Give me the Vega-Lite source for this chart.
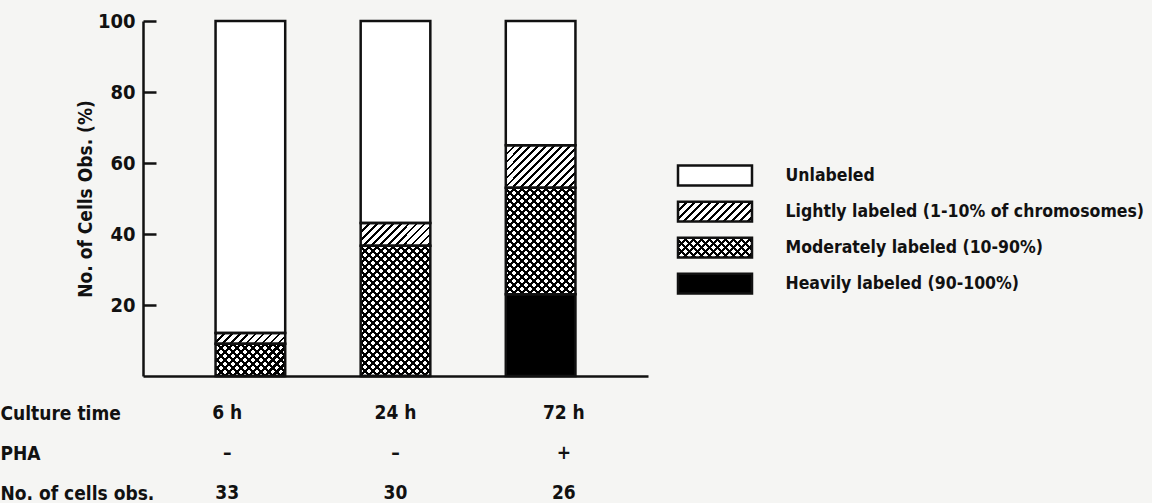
{
"$schema": "https://vega.github.io/schema/vega-lite/v6.json",
"background": "#f5f5f3",
"padding": {"left": 0, "top": 11, "right": 14, "bottom": 0},
"config": {"view": {"stroke": null}, "font": "Liberation Sans Narrow, DejaVu Sans Condensed, sans-serif"},
"params": [
{"name": "thin", "value": [
{"offset":0,"color":"#000"},{"offset":0.008,"color":"#000"},{"offset":0.008,"color":"transparent"},{"offset":0.025,"color":"transparent"},
{"offset":0.025,"color":"#000"},{"offset":0.033,"color":"#000"},{"offset":0.033,"color":"transparent"},{"offset":0.05,"color":"transparent"},
{"offset":0.05,"color":"#000"},{"offset":0.058,"color":"#000"},{"offset":0.058,"color":"transparent"},{"offset":0.075,"color":"transparent"},
{"offset":0.075,"color":"#000"},{"offset":0.083,"color":"#000"},{"offset":0.083,"color":"transparent"},{"offset":0.1,"color":"transparent"},
{"offset":0.1,"color":"#000"},{"offset":0.108,"color":"#000"},{"offset":0.108,"color":"transparent"},{"offset":0.125,"color":"transparent"},
{"offset":0.125,"color":"#000"},{"offset":0.133,"color":"#000"},{"offset":0.133,"color":"transparent"},{"offset":0.15,"color":"transparent"},
{"offset":0.15,"color":"#000"},{"offset":0.158,"color":"#000"},{"offset":0.158,"color":"transparent"},{"offset":0.175,"color":"transparent"},
{"offset":0.175,"color":"#000"},{"offset":0.183,"color":"#000"},{"offset":0.183,"color":"transparent"},{"offset":0.2,"color":"transparent"},
{"offset":0.2,"color":"#000"},{"offset":0.208,"color":"#000"},{"offset":0.208,"color":"transparent"},{"offset":0.225,"color":"transparent"},
{"offset":0.225,"color":"#000"},{"offset":0.233,"color":"#000"},{"offset":0.233,"color":"transparent"},{"offset":0.25,"color":"transparent"},
{"offset":0.25,"color":"#000"},{"offset":0.258,"color":"#000"},{"offset":0.258,"color":"transparent"},{"offset":0.275,"color":"transparent"},
{"offset":0.275,"color":"#000"},{"offset":0.283,"color":"#000"},{"offset":0.283,"color":"transparent"},{"offset":0.3,"color":"transparent"},
{"offset":0.3,"color":"#000"},{"offset":0.308,"color":"#000"},{"offset":0.308,"color":"transparent"},{"offset":0.325,"color":"transparent"},
{"offset":0.325,"color":"#000"},{"offset":0.333,"color":"#000"},{"offset":0.333,"color":"transparent"},{"offset":0.35,"color":"transparent"},
{"offset":0.35,"color":"#000"},{"offset":0.358,"color":"#000"},{"offset":0.358,"color":"transparent"},{"offset":0.375,"color":"transparent"},
{"offset":0.375,"color":"#000"},{"offset":0.383,"color":"#000"},{"offset":0.383,"color":"transparent"},{"offset":0.4,"color":"transparent"},
{"offset":0.4,"color":"#000"},{"offset":0.408,"color":"#000"},{"offset":0.408,"color":"transparent"},{"offset":0.425,"color":"transparent"},
{"offset":0.425,"color":"#000"},{"offset":0.433,"color":"#000"},{"offset":0.433,"color":"transparent"},{"offset":0.45,"color":"transparent"},
{"offset":0.45,"color":"#000"},{"offset":0.458,"color":"#000"},{"offset":0.458,"color":"transparent"},{"offset":0.475,"color":"transparent"},
{"offset":0.475,"color":"#000"},{"offset":0.483,"color":"#000"},{"offset":0.483,"color":"transparent"},{"offset":0.5,"color":"transparent"},
{"offset":0.5,"color":"#000"},{"offset":0.508,"color":"#000"},{"offset":0.508,"color":"transparent"},{"offset":0.525,"color":"transparent"},
{"offset":0.525,"color":"#000"},{"offset":0.533,"color":"#000"},{"offset":0.533,"color":"transparent"},{"offset":0.55,"color":"transparent"},
{"offset":0.55,"color":"#000"},{"offset":0.558,"color":"#000"},{"offset":0.558,"color":"transparent"},{"offset":0.575,"color":"transparent"},
{"offset":0.575,"color":"#000"},{"offset":0.583,"color":"#000"},{"offset":0.583,"color":"transparent"},{"offset":0.6,"color":"transparent"},
{"offset":0.6,"color":"#000"},{"offset":0.608,"color":"#000"},{"offset":0.608,"color":"transparent"},{"offset":0.625,"color":"transparent"},
{"offset":0.625,"color":"#000"},{"offset":0.633,"color":"#000"},{"offset":0.633,"color":"transparent"},{"offset":0.65,"color":"transparent"},
{"offset":0.65,"color":"#000"},{"offset":0.658,"color":"#000"},{"offset":0.658,"color":"transparent"},{"offset":0.675,"color":"transparent"},
{"offset":0.675,"color":"#000"},{"offset":0.683,"color":"#000"},{"offset":0.683,"color":"transparent"},{"offset":0.7,"color":"transparent"},
{"offset":0.7,"color":"#000"},{"offset":0.708,"color":"#000"},{"offset":0.708,"color":"transparent"},{"offset":0.725,"color":"transparent"},
{"offset":0.725,"color":"#000"},{"offset":0.733,"color":"#000"},{"offset":0.733,"color":"transparent"},{"offset":0.75,"color":"transparent"},
{"offset":0.75,"color":"#000"},{"offset":0.758,"color":"#000"},{"offset":0.758,"color":"transparent"},{"offset":0.775,"color":"transparent"},
{"offset":0.775,"color":"#000"},{"offset":0.783,"color":"#000"},{"offset":0.783,"color":"transparent"},{"offset":0.8,"color":"transparent"},
{"offset":0.8,"color":"#000"},{"offset":0.808,"color":"#000"},{"offset":0.808,"color":"transparent"},{"offset":0.825,"color":"transparent"},
{"offset":0.825,"color":"#000"},{"offset":0.833,"color":"#000"},{"offset":0.833,"color":"transparent"},{"offset":0.85,"color":"transparent"},
{"offset":0.85,"color":"#000"},{"offset":0.858,"color":"#000"},{"offset":0.858,"color":"transparent"},{"offset":0.875,"color":"transparent"},
{"offset":0.875,"color":"#000"},{"offset":0.883,"color":"#000"},{"offset":0.883,"color":"transparent"},{"offset":0.9,"color":"transparent"},
{"offset":0.9,"color":"#000"},{"offset":0.908,"color":"#000"},{"offset":0.908,"color":"transparent"},{"offset":0.925,"color":"transparent"},
{"offset":0.925,"color":"#000"},{"offset":0.933,"color":"#000"},{"offset":0.933,"color":"transparent"},{"offset":0.95,"color":"transparent"},
{"offset":0.95,"color":"#000"},{"offset":0.958,"color":"#000"},{"offset":0.958,"color":"transparent"},{"offset":0.975,"color":"transparent"},
{"offset":0.975,"color":"#000"},{"offset":0.983,"color":"#000"},{"offset":0.983,"color":"transparent"},{"offset":1,"color":"transparent"}
]},
{"name": "thick", "value": [
{"offset":0,"color":"#000"},{"offset":0.01,"color":"#000"},{"offset":0.01,"color":"transparent"},{"offset":0.025,"color":"transparent"},
{"offset":0.025,"color":"#000"},{"offset":0.035,"color":"#000"},{"offset":0.035,"color":"transparent"},{"offset":0.05,"color":"transparent"},
{"offset":0.05,"color":"#000"},{"offset":0.06,"color":"#000"},{"offset":0.06,"color":"transparent"},{"offset":0.075,"color":"transparent"},
{"offset":0.075,"color":"#000"},{"offset":0.085,"color":"#000"},{"offset":0.085,"color":"transparent"},{"offset":0.1,"color":"transparent"},
{"offset":0.1,"color":"#000"},{"offset":0.11,"color":"#000"},{"offset":0.11,"color":"transparent"},{"offset":0.125,"color":"transparent"},
{"offset":0.125,"color":"#000"},{"offset":0.135,"color":"#000"},{"offset":0.135,"color":"transparent"},{"offset":0.15,"color":"transparent"},
{"offset":0.15,"color":"#000"},{"offset":0.16,"color":"#000"},{"offset":0.16,"color":"transparent"},{"offset":0.175,"color":"transparent"},
{"offset":0.175,"color":"#000"},{"offset":0.185,"color":"#000"},{"offset":0.185,"color":"transparent"},{"offset":0.2,"color":"transparent"},
{"offset":0.2,"color":"#000"},{"offset":0.21,"color":"#000"},{"offset":0.21,"color":"transparent"},{"offset":0.225,"color":"transparent"},
{"offset":0.225,"color":"#000"},{"offset":0.235,"color":"#000"},{"offset":0.235,"color":"transparent"},{"offset":0.25,"color":"transparent"},
{"offset":0.25,"color":"#000"},{"offset":0.26,"color":"#000"},{"offset":0.26,"color":"transparent"},{"offset":0.275,"color":"transparent"},
{"offset":0.275,"color":"#000"},{"offset":0.285,"color":"#000"},{"offset":0.285,"color":"transparent"},{"offset":0.3,"color":"transparent"},
{"offset":0.3,"color":"#000"},{"offset":0.31,"color":"#000"},{"offset":0.31,"color":"transparent"},{"offset":0.325,"color":"transparent"},
{"offset":0.325,"color":"#000"},{"offset":0.335,"color":"#000"},{"offset":0.335,"color":"transparent"},{"offset":0.35,"color":"transparent"},
{"offset":0.35,"color":"#000"},{"offset":0.36,"color":"#000"},{"offset":0.36,"color":"transparent"},{"offset":0.375,"color":"transparent"},
{"offset":0.375,"color":"#000"},{"offset":0.385,"color":"#000"},{"offset":0.385,"color":"transparent"},{"offset":0.4,"color":"transparent"},
{"offset":0.4,"color":"#000"},{"offset":0.41,"color":"#000"},{"offset":0.41,"color":"transparent"},{"offset":0.425,"color":"transparent"},
{"offset":0.425,"color":"#000"},{"offset":0.435,"color":"#000"},{"offset":0.435,"color":"transparent"},{"offset":0.45,"color":"transparent"},
{"offset":0.45,"color":"#000"},{"offset":0.46,"color":"#000"},{"offset":0.46,"color":"transparent"},{"offset":0.475,"color":"transparent"},
{"offset":0.475,"color":"#000"},{"offset":0.485,"color":"#000"},{"offset":0.485,"color":"transparent"},{"offset":0.5,"color":"transparent"},
{"offset":0.5,"color":"#000"},{"offset":0.51,"color":"#000"},{"offset":0.51,"color":"transparent"},{"offset":0.525,"color":"transparent"},
{"offset":0.525,"color":"#000"},{"offset":0.535,"color":"#000"},{"offset":0.535,"color":"transparent"},{"offset":0.55,"color":"transparent"},
{"offset":0.55,"color":"#000"},{"offset":0.56,"color":"#000"},{"offset":0.56,"color":"transparent"},{"offset":0.575,"color":"transparent"},
{"offset":0.575,"color":"#000"},{"offset":0.585,"color":"#000"},{"offset":0.585,"color":"transparent"},{"offset":0.6,"color":"transparent"},
{"offset":0.6,"color":"#000"},{"offset":0.61,"color":"#000"},{"offset":0.61,"color":"transparent"},{"offset":0.625,"color":"transparent"},
{"offset":0.625,"color":"#000"},{"offset":0.635,"color":"#000"},{"offset":0.635,"color":"transparent"},{"offset":0.65,"color":"transparent"},
{"offset":0.65,"color":"#000"},{"offset":0.66,"color":"#000"},{"offset":0.66,"color":"transparent"},{"offset":0.675,"color":"transparent"},
{"offset":0.675,"color":"#000"},{"offset":0.685,"color":"#000"},{"offset":0.685,"color":"transparent"},{"offset":0.7,"color":"transparent"},
{"offset":0.7,"color":"#000"},{"offset":0.71,"color":"#000"},{"offset":0.71,"color":"transparent"},{"offset":0.725,"color":"transparent"},
{"offset":0.725,"color":"#000"},{"offset":0.735,"color":"#000"},{"offset":0.735,"color":"transparent"},{"offset":0.75,"color":"transparent"},
{"offset":0.75,"color":"#000"},{"offset":0.76,"color":"#000"},{"offset":0.76,"color":"transparent"},{"offset":0.775,"color":"transparent"},
{"offset":0.775,"color":"#000"},{"offset":0.785,"color":"#000"},{"offset":0.785,"color":"transparent"},{"offset":0.8,"color":"transparent"},
{"offset":0.8,"color":"#000"},{"offset":0.81,"color":"#000"},{"offset":0.81,"color":"transparent"},{"offset":0.825,"color":"transparent"},
{"offset":0.825,"color":"#000"},{"offset":0.835,"color":"#000"},{"offset":0.835,"color":"transparent"},{"offset":0.85,"color":"transparent"},
{"offset":0.85,"color":"#000"},{"offset":0.86,"color":"#000"},{"offset":0.86,"color":"transparent"},{"offset":0.875,"color":"transparent"},
{"offset":0.875,"color":"#000"},{"offset":0.885,"color":"#000"},{"offset":0.885,"color":"transparent"},{"offset":0.9,"color":"transparent"},
{"offset":0.9,"color":"#000"},{"offset":0.91,"color":"#000"},{"offset":0.91,"color":"transparent"},{"offset":0.925,"color":"transparent"},
{"offset":0.925,"color":"#000"},{"offset":0.935,"color":"#000"},{"offset":0.935,"color":"transparent"},{"offset":0.95,"color":"transparent"},
{"offset":0.95,"color":"#000"},{"offset":0.96,"color":"#000"},{"offset":0.96,"color":"transparent"},{"offset":0.975,"color":"transparent"},
{"offset":0.975,"color":"#000"},{"offset":0.985,"color":"#000"},{"offset":0.985,"color":"transparent"},{"offset":1,"color":"transparent"}
]}
],
"datasets": {
"bars": [
{"time":"6 h","label":"Unlabeled","level":0,"pct":87.9},
{"time":"6 h","label":"Lightly labeled (1-10% of chromosomes)","level":1,"pct":3.0},
{"time":"6 h","label":"Moderately labeled (10-90%)","level":2,"pct":9.1},
{"time":"6 h","label":"Heavily labeled (90-100%)","level":3,"pct":0},
{"time":"24 h","label":"Unlabeled","level":0,"pct":56.9},
{"time":"24 h","label":"Lightly labeled (1-10% of chromosomes)","level":1,"pct":6.4},
{"time":"24 h","label":"Moderately labeled (10-90%)","level":2,"pct":36.7},
{"time":"24 h","label":"Heavily labeled (90-100%)","level":3,"pct":0},
{"time":"72 h","label":"Unlabeled","level":0,"pct":35.0},
{"time":"72 h","label":"Lightly labeled (1-10% of chromosomes)","level":1,"pct":12.0},
{"time":"72 h","label":"Moderately labeled (10-90%)","level":2,"pct":30.0},
{"time":"72 h","label":"Heavily labeled (90-100%)","level":3,"pct":23.0}
],
"table": [
{"time":"6 h","row":"Culture time","value":"6 h"},
{"time":"24 h","row":"Culture time","value":"24 h"},
{"time":"72 h","row":"Culture time","value":"72 h"},
{"time":"6 h","row":"PHA","value":"–"},
{"time":"24 h","row":"PHA","value":"–"},
{"time":"72 h","row":"PHA","value":"+"},
{"time":"6 h","row":"No. of cells obs.","value":"33"},
{"time":"24 h","row":"No. of cells obs.","value":"30"},
{"time":"72 h","row":"No. of cells obs.","value":"26"}
],
"cats": [
{"label":"Unlabeled","level":0},
{"label":"Lightly labeled (1-10% of chromosomes)","level":1},
{"label":"Moderately labeled (10-90%)","level":2},
{"label":"Heavily labeled (90-100%)","level":3}
]
},
"spacing": 28,
"center": true,
"hconcat": [
{
"spacing": 25,
"vconcat": [
{
"width": 505, "height": 355,
"data": {"name": "bars"},
"encoding": {
"x": {"field": "time", "type": "nominal", "scale": {"domain": ["6 h","24 h","72 h"], "paddingInner": 0.52, "paddingOuter": 0.5}, "axis": {"labels": false, "ticks": false, "title": null, "domainWidth": 2.5, "domainColor": "#111"}},
"y": {"field": "pct", "type": "quantitative", "stack": "zero", "scale": {"domain": [0, 100], "nice": false},
"axis": {"values": [20,40,60,80,100], "title": "No. of Cells Obs. (%)", "titleFontSize": 19, "titleFontWeight": "bold", "titleColor": "#111", "titlePadding": 2,
"labelFontSize": 20, "labelFontWeight": "bold", "labelColor": "#111", "labelPadding": 21, "labelFlush": false, "labelOverlap": false,
"tickSize": -13, "tickWidth": 2.5, "tickColor": "#111", "domainWidth": 2.5, "domainColor": "#111", "grid": false}},
"order": {"field": "level", "sort": "descending"},
"detail": {"field": "label"}
},
"layer": [
{"mark": {"type": "bar", "strokeWidth": 0}, "encoding": {"fill": {"condition": {"test": "datum.level == 3", "value": "#000"}, "value": "#fff"}}},
{"mark": {"type": "bar", "strokeWidth": 0, "fill": {"expr": "datum.level == 1 || datum.level == 2 ? {gradient: 'linear', x1: 0, y1: 0, x2: 22400 / (4900 + pow(datum.pct * 3.55, 2)), y2: 320 * datum.pct * 3.55 / (4900 + pow(datum.pct * 3.55, 2)), stops: datum.level == 1 ? thin : thick} : 'transparent'"}}},
{"mark": {"type": "bar", "strokeWidth": 0, "fill": {"expr": "datum.level == 2 ? {gradient: 'linear', x1: 0, y1: 1, x2: 22400 / (4900 + pow(datum.pct * 3.55, 2)), y2: 1 - 320 * datum.pct * 3.55 / (4900 + pow(datum.pct * 3.55, 2)), stops: thick} : 'transparent'"}}},
{"mark": {"type": "bar", "fill": "transparent", "stroke": "#111", "strokeWidth": 2.5}}
]
},
{
"width": 505, "height": 100,
"data": {"name": "table"},
"mark": {"type": "text", "fontSize": 19, "fontWeight": "bold", "color": "#111", "baseline": "middle", "align": "center"},
"encoding": {
"x": {"field": "time", "type": "nominal", "scale": {"domain": ["6 h","24 h","72 h"], "paddingInner": 0.52, "paddingOuter": 0.5}, "axis": null},
"y": {"field": "row", "type": "nominal", "scale": {"type": "point", "domain": ["Culture time","PHA","No. of cells obs."], "padding": 0.25},
"axis": {"title": null, "domain": false, "ticks": false, "labelAlign": "left", "labelPadding": 143, "labelFontSize": 19, "labelFontWeight": "bold", "labelColor": "#111", "labelLimit": 0}},
"text": {"field": "value"}
}
}
]
},
{
"width": 74, "height": 200,
"data": {"name": "cats"},
"encoding": {
"y": {"field": "label", "type": "nominal", "scale": {"domain": ["Unlabeled","Lightly labeled (1-10% of chromosomes)","Moderately labeled (10-90%)","Heavily labeled (90-100%)"], "paddingInner": 0.45, "paddingOuter": 1, "align": 0.05},
"axis": {"orient": "right", "title": null, "domain": false, "ticks": false, "labelAlign": "left", "labelPadding": 33, "labelFontSize": 17.5, "labelFontWeight": "bold", "labelColor": "#111", "labelLimit": 0}}
},
"layer": [
{"mark": {"type": "rect", "strokeWidth": 0}, "encoding": {"fill": {"condition": {"test": "datum.level == 3", "value": "#000"}, "value": "#fff"}}},
{"mark": {"type": "rect", "strokeWidth": 0, "fill": {"expr": "datum.level == 1 || datum.level == 2 ? {gradient: 'linear', x1: 0, y1: 0, x2: 4.035, y2: 1.081, stops: datum.level == 1 ? thin : thick} : 'transparent'"}}},
{"mark": {"type": "rect", "strokeWidth": 0, "fill": {"expr": "datum.level == 2 ? {gradient: 'linear', x1: 0, y1: 1, x2: 4.035, y2: -0.081, stops: thick} : 'transparent'"}}},
{"mark": {"type": "rect", "fill": "transparent", "stroke": "#111", "strokeWidth": 2.5}}
]
}
]
}
